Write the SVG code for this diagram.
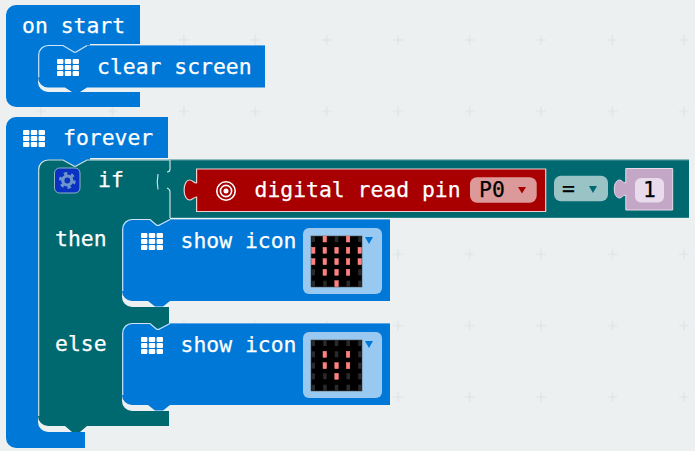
<svg xmlns="http://www.w3.org/2000/svg" xmlns:xlink="http://www.w3.org/1999/xlink" width="695" height="451" viewBox="0 0 695 451">
<style>
text{font-family:"DejaVu Sans Mono","Liberation Mono",monospace;font-size:21.4px;fill:#fff;stroke:#fff;stroke-width:.25;white-space:pre}
text.dark{fill:#000;stroke:#000}
.blue{fill:#0078d7}
.teal{fill:#006970}
.hl{fill:none;stroke:#fff;stroke-opacity:.8;stroke-width:1.2}
.hf{fill:none;stroke:#fff;stroke-opacity:.35;stroke-width:1}
.on{fill:#ff8080;stroke:#ff8080;stroke-width:.5}
.off{fill:#2a2a2a}
</style>
<defs>
<pattern id="dots" patternUnits="userSpaceOnUse" x="5.3" y="4.3" width="71.43" height="71.43">
<path d="M30.7,35.7H40.7M35.7,30.7V40.7" stroke="#dde2e5" stroke-width="1.2" fill="none"/>
</pattern>
<g id="grid" fill="#fff">
<rect x="0" y="0" width="6.4" height="5" rx="1"/><rect x="7.8" y="0" width="6.4" height="5" rx="1"/><rect x="15.6" y="0" width="6.4" height="5" rx="1"/>
<rect x="0" y="6" width="6.4" height="5" rx="1"/><rect x="7.8" y="6" width="6.4" height="5" rx="1"/><rect x="15.6" y="6" width="6.4" height="5" rx="1"/>
<rect x="0" y="12" width="6.4" height="5" rx="1"/><rect x="7.8" y="12" width="6.4" height="5" rx="1"/><rect x="15.6" y="12" width="6.4" height="5" rx="1"/>
</g>
<g id="led-off">
<rect class="off" x="0" y="0" width="3.5" height="6"/><rect class="off" x="11.7" y="0" width="3.5" height="6"/><rect class="off" x="23.3" y="0" width="3.5" height="6"/><rect class="off" x="35" y="0" width="3.5" height="6"/><rect class="off" x="46.7" y="0" width="3.5" height="6"/>
</g>
<g id="show">
<path class="blue" d="M122,229a10,10 0 0 1 10,-10H150L156,224q2,1.500 4,0L170,219H390V301H170L163,306.500H155L148,301H132a10,10 0 0 1 -10,-10Z"/>
<path class="hl" d="M122.700,291V229a9.500,9.500 0 0 1 9.500,-9.500H150L156,224.700q2,1.500 4,0L170,219.500"/>
<path class="hf" d="M170,219.500H390"/>
<use href="#grid" x="141" y="233"/>
<text x="180.500" y="248">show icon</text>
<rect x="303" y="228" width="79" height="66" rx="6" fill="#99c9f0"/>
<rect x="311" y="236" width="51" height="51" fill="#000" stroke="#555" stroke-width=".6"/>
<path class="blue" d="M365,237h8l-4,7Z"/>
<use href="#led-off" x="311.500" y="236"/><use href="#led-off" x="311.500" y="247.300"/><use href="#led-off" x="311.500" y="258.700"/><use href="#led-off" x="311.500" y="269.300"/><use href="#led-off" x="311.500" y="280.700"/>
</g>
</defs>
<rect width="695" height="451" fill="#ecf0f1"/>
<rect width="695" height="451" fill="url(#dots)"/>

<g id="on-start">
<path class="blue" d="M16,5H140V44H90V54H38V82a10,10 0 0 0 10,10H140V107H16a10,10 0 0 1 -10,-10V15a10,10 0 0 1 10,-10Z"/>
<text x="22" y="33">on start</text>
</g>
<g id="clear-screen">
<path class="blue" d="M38,55a10,10 0 0 1 10,-10H63L73,51q2,1.500 4,0L87,45H265V87.500H87L80,92H72L65,87.500H48a10,10 0 0 1 -10,-10Z"/>
<path class="hl" d="M38.700,77.500V55a9.500,9.500 0 0 1 9.500,-9.500H63L73,51.500q2,1.500 4,0L87,45.500"/>
<path class="hf" d="M87,45.500H265"/>
<use href="#grid" x="57" y="59"/>
<text x="97" y="74">clear screen</text>
</g>

<g id="forever">
<path class="blue" d="M16,117H168V158H90V168H38V422a10,10 0 0 0 10,10H85V448H16a10,10 0 0 1 -10,-10V127a10,10 0 0 1 10,-10Z"/>
<use href="#grid" x="23" y="130"/>
<text x="63" y="145">forever</text>
</g>

<g id="if-block">
<path class="teal" d="M48,159.500H63L73,165q2,1.500 4,0L87,159.500H689V218H170V230H122V297a10,10 0 0 0 10,10H169V335H122V401a10,10 0 0 0 10,10H169V426H87L80,432H72L65,426H48a10,10 0 0 1 -10,-10V169.500a10,10 0 0 1 10,-10Z"/>
<path class="hl" d="M38.700,416V169.500a9.500,9.500 0 0 1 9.500,-9.500H63L73,165.500q2,1.500 4,0L87,160H169.500"/>
<path class="hl" d="M170,160V169q0,3 -3,3M158,174q-1.500,8 0,15.500M167,188q3,1 3,4V218" />
<path class="hf" d="M170,160H689M170,218H689"/>
<rect x="54.500" y="168" width="25.500" height="25" rx="5" fill="#0a32c2" stroke="#8fb4c4" stroke-width="1"/>
<circle cx="67.300" cy="180.500" r="4.500" fill="none" stroke="#6f96cc" stroke-width="3.200"/>
<circle cx="67.300" cy="180.500" r="7" fill="none" stroke="#6f96cc" stroke-width="2.800" stroke-dasharray="3.400 3.930"/>
<text x="98" y="187">if</text>
<text x="55" y="246">then</text>
<text x="55" y="351">else</text>
</g>

<g id="digital-read">
<path fill="#a80000" stroke="#efd0d0" stroke-width="1.200" d="M196.600,169H545.700V211.500H196.600V197c-3,0 -4,3 -7,3c-3,0 -5.500,-4 -5.500,-10c0,-6 2.500,-10 5.500,-10c3,0 4,3 7,3Z"/>
<g fill="none" stroke="#fff"><circle cx="226" cy="191" r="9.200" stroke-width="1.600"/><circle cx="226" cy="191" r="5.600" stroke-width="1.600"/></g>
<circle cx="226" cy="191" r="2.500" fill="#fff"/>
<text x="254.500" y="197">digital read pin</text>
<rect x="470" y="177.300" width="66.700" height="25.400" rx="7" fill="#dc9999"/>
<text class="dark" x="479" y="197">P0</text>
<path fill="#a80000" d="M518,187h8l-4,6.500Z"/>
</g>

<g id="equals">
<rect x="554" y="175.700" width="54" height="25.600" rx="7" fill="#9ac3c6"/>
<text class="dark" x="562" y="196">=</text>
<path class="teal" d="M589,186h8l-4,7Z"/>
</g>

<g id="number">
<path fill="#c4a6c7" stroke="#e6dbe8" stroke-width="1" d="M625.800,168.500H672.700V210H625.800V195c-3,0 -4,3 -6,3c-3,0 -5.500,-3 -5.500,-9c0,-6 2.500,-9 5.500,-9c2,0 3,3 6,3Z"/>
<rect x="635" y="178" width="29" height="24.500" rx="6" fill="#e8dcec"/>
<text class="dark" x="643" y="197">1</text>
</g>

<g id="show-icon-1">
<use href="#show"/>
<g class="on">
<rect x="323" y="236" width="3.500" height="6"/><rect x="346.300" y="236" width="3.500" height="6"/>
<rect x="311.500" y="247.300" width="3.500" height="6"/><rect x="323" y="247.300" width="3.500" height="6"/><rect x="334.800" y="247.300" width="3.500" height="6"/><rect x="346.300" y="247.300" width="3.500" height="6"/><rect x="358" y="247.300" width="3.500" height="6"/>
<rect x="311.500" y="258.700" width="3.500" height="6"/><rect x="323" y="258.700" width="3.500" height="6"/><rect x="334.800" y="258.700" width="3.500" height="6"/><rect x="346.300" y="258.700" width="3.500" height="6"/><rect x="358" y="258.700" width="3.500" height="6"/>
<rect x="323" y="269.300" width="3.500" height="6"/><rect x="334.800" y="269.300" width="3.500" height="6"/><rect x="346.300" y="269.300" width="3.500" height="6"/>
<rect x="334.800" y="280.700" width="3.500" height="6"/>
</g>
</g>

<g id="show-icon-2">
<use href="#show" y="104"/>
<g class="on">
<rect x="323" y="351.300" width="3.500" height="6"/><rect x="346.300" y="351.300" width="3.500" height="6"/>
<rect x="323" y="362.700" width="3.500" height="6"/><rect x="334.800" y="362.700" width="3.500" height="6"/><rect x="346.300" y="362.700" width="3.500" height="6"/>
<rect x="334.800" y="373.300" width="3.500" height="6"/>
</g>
</g>
</svg>
